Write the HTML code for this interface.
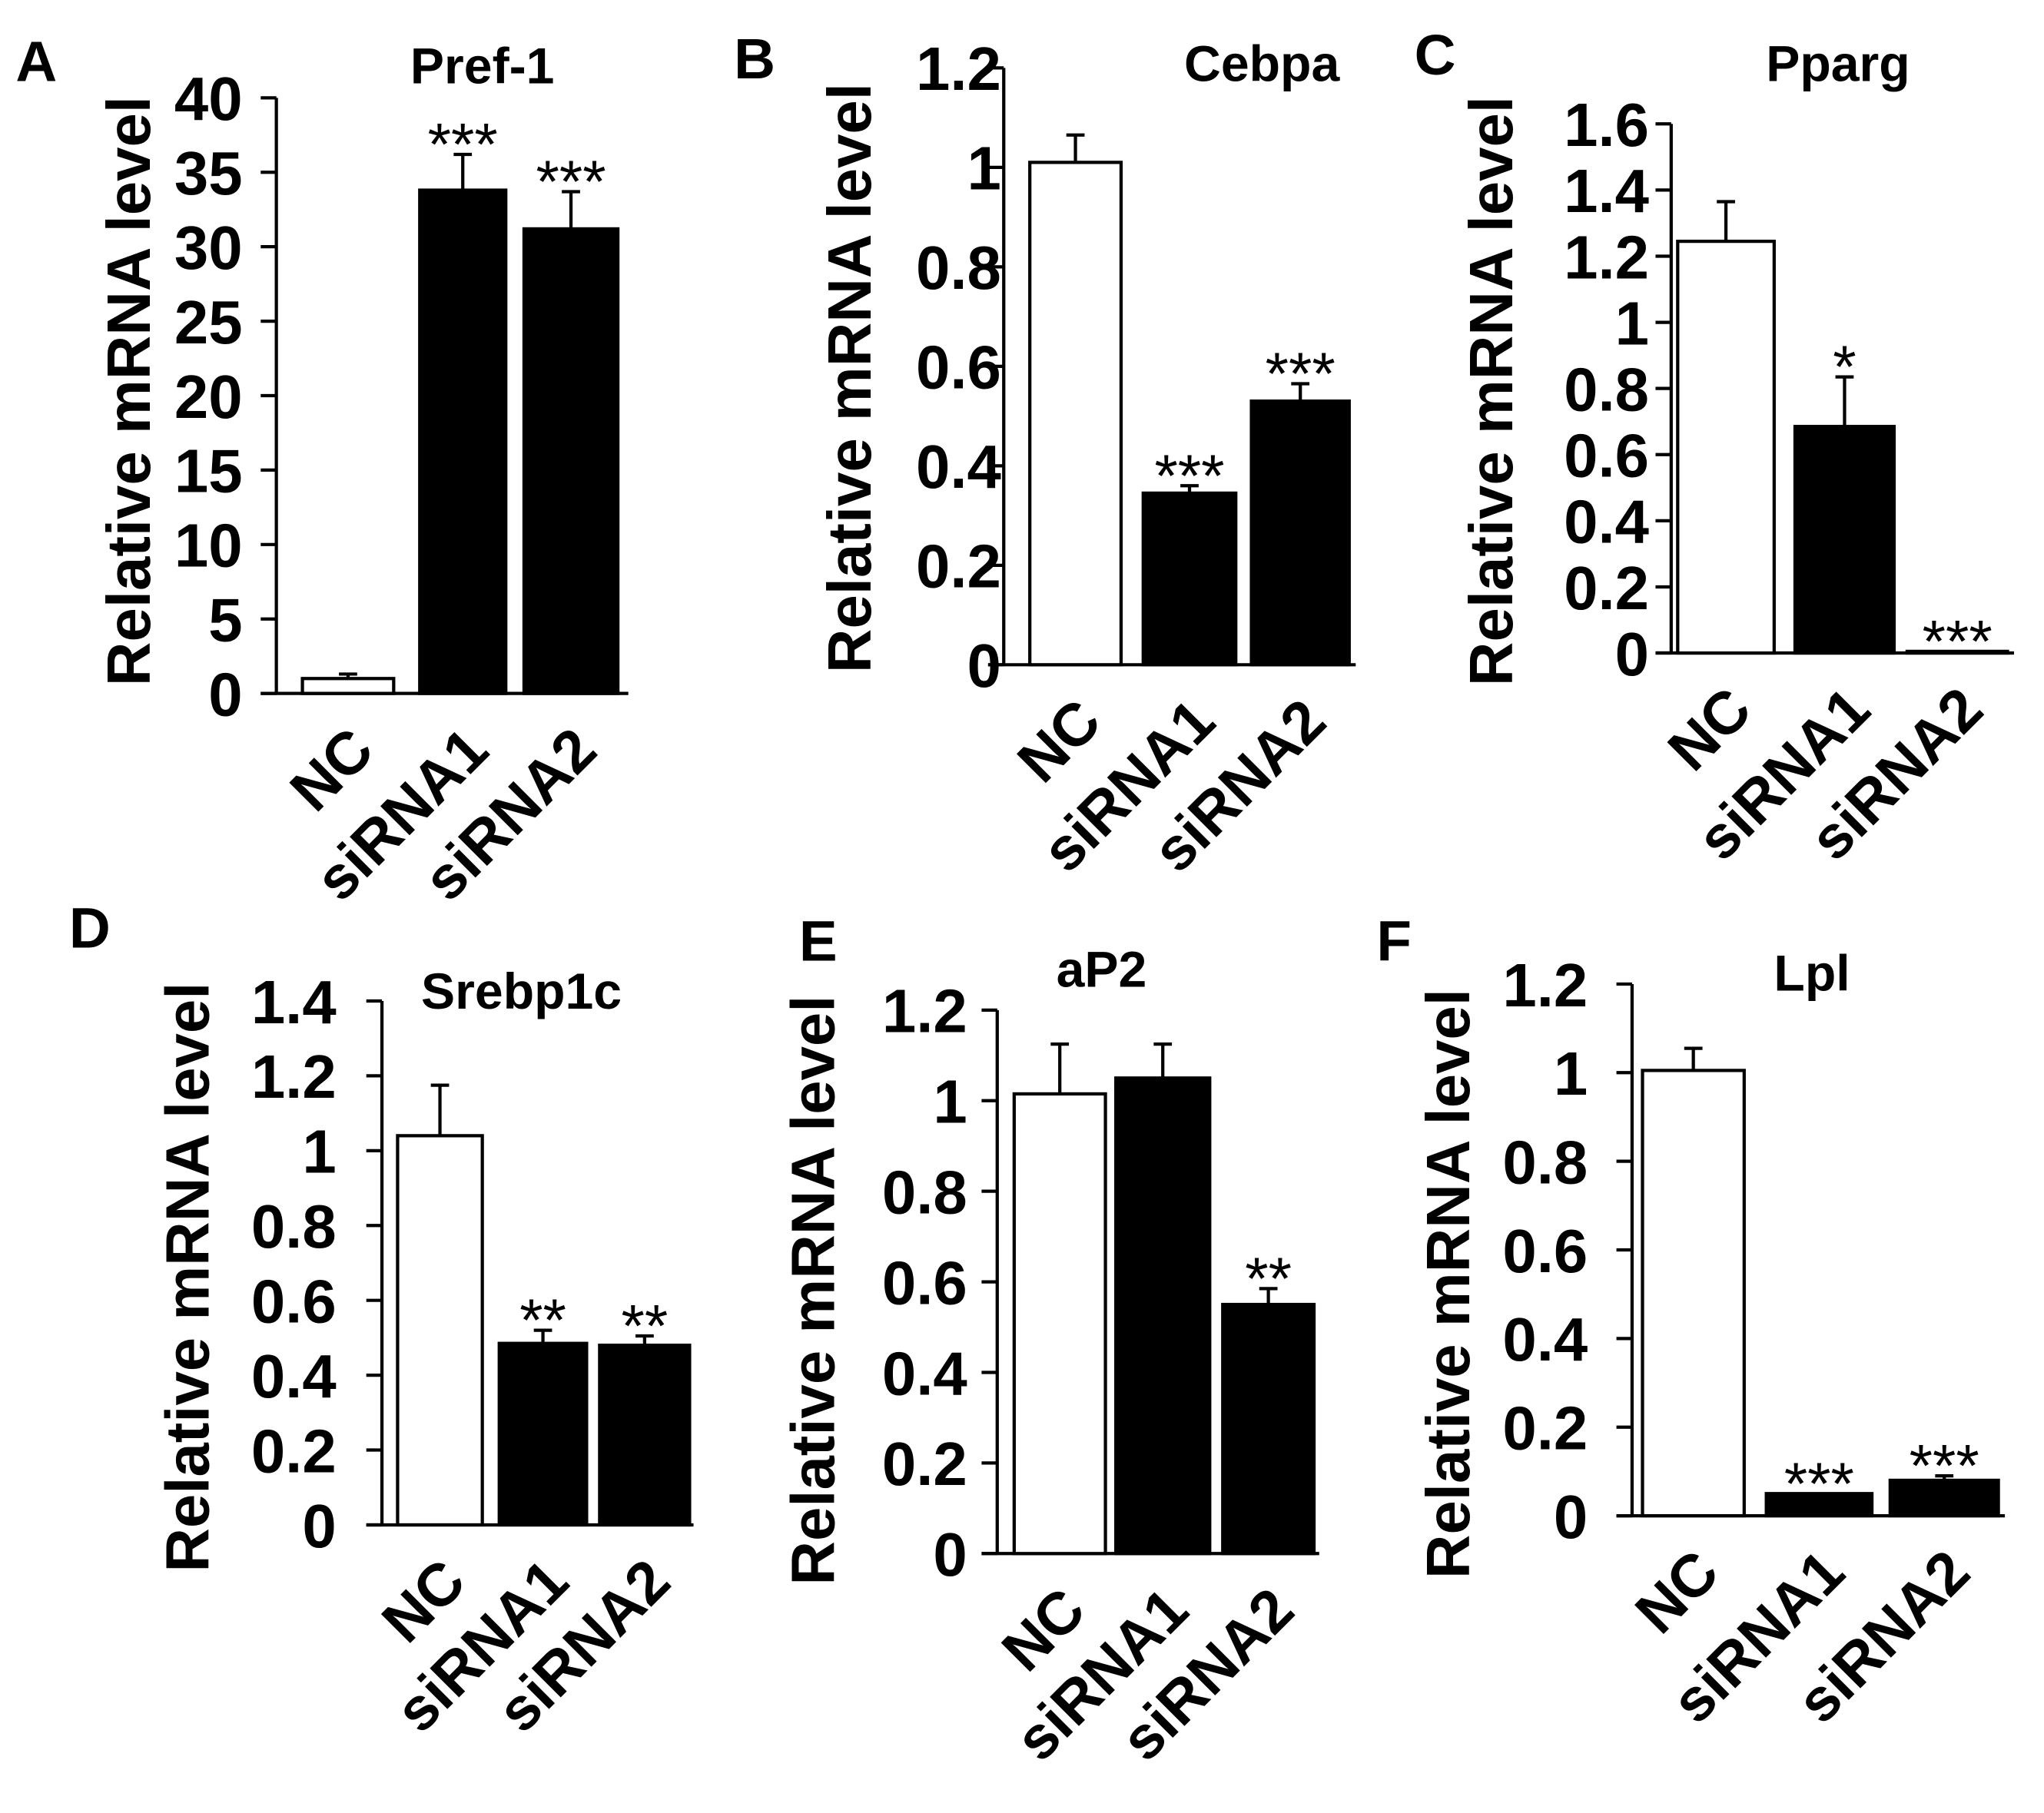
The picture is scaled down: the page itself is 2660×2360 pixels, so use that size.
<!DOCTYPE html>
<html><head><meta charset="utf-8"><style>
html,body{margin:0;padding:0;background:#fff;}
svg{display:block;}
text{font-family:"Liberation Sans",Arial,sans-serif;fill:#000;}
</style></head><body>
<svg id="fig" width="2660" height="2360" viewBox="0 0 1568 1391" xmlns="http://www.w3.org/2000/svg"></svg>
<script>
const categories = ["NC", "siRNA1", "siRNA2"];
const valuesA = [1.0, 33.8, 31.2];
const errorsA = [1.3, 36.2, 33.7];
const starsA = ["", "***", "***"];
const ticksA = [0, 5, 10, 15, 20, 25, 30, 35, 40];
const valuesB = [1.01, 0.345, 0.53];
const errorsB = [1.065, 0.36, 0.565];
const starsB = ["", "***", "***"];
const ticksB = [0, 0.2, 0.4, 0.6, 0.8, 1, 1.2];
const valuesC = [1.245, 0.685, 0.005];
const errorsC = [1.365, 0.835, 0.005];
const starsC = ["", "*", "***"];
const ticksC = [0, 0.2, 0.4, 0.6, 0.8, 1, 1.2, 1.4, 1.6];
const valuesD = [1.04, 0.485, 0.48];
const errorsD = [1.175, 0.52, 0.505];
const starsD = ["", "**", "**"];
const ticksD = [0, 0.2, 0.4, 0.6, 0.8, 1, 1.2, 1.4];
const valuesE = [1.015, 1.05, 0.55];
const errorsE = [1.125, 1.125, 0.585];
const starsE = ["", "", "**"];
const ticksE = [0, 0.2, 0.4, 0.6, 0.8, 1, 1.2];
const valuesF = [1.005, 0.05, 0.08];
const errorsF = [1.055, 0.05, 0.09];
const starsF = ["", "***", "***"];
const ticksF = [0, 0.2, 0.4, 0.6, 0.8, 1, 1.2];

const NS = "http://www.w3.org/2000/svg";
const svg = document.getElementById("fig");
function mk(tag, attrs, parent, txt) {
  const e = document.createElementNS(NS, tag);
  for (const k in attrs) e.setAttribute(k, attrs[k]);
  if (txt !== undefined) e.textContent = txt;
  parent.appendChild(e);
  return e;
}

function panel(cfg, vals, errs, stars, ticks) {
  const g = mk("g", {}, svg);
  
  
  const ymax = ticks[ticks.length - 1];
  const y = v => cfg.y0 - (v / ymax) * (cfg.y0 - cfg.yTop);
  const L = mk("text", {x: cfg.lx, y: cfg.ly, "font-size": 44, "font-weight": "bold"}, g, cfg.letter);
  
  
  const T = mk("text", {x: cfg.tx, y: cfg.ty, "font-size": 39, "font-weight": "bold", "text-anchor": "middle"}, g, cfg.title);
  
  
  const YT = mk("text", {x: 0, y: 0, "font-size": 47, "font-weight": "bold", "text-anchor": "middle",
    transform: `translate(${cfg.ytx},${cfg.ytc}) rotate(-90)`}, g, "Relative mRNA level");
  
  
  const ya = mk("line", {x1: cfg.ax, y1: y(ymax), x2: cfg.ax, y2: cfg.y0, stroke: "#000", "stroke-width": 2.5}, g);
  
  
  const xa = mk("line", {x1: cfg.ax - 12, y1: cfg.y0, x2: cfg.xEnd, y2: cfg.y0, stroke: "#000", "stroke-width": 2.5}, g);
  
  
  ticks.forEach(t => {
    const tk = mk("line", {x1: cfg.ax - 12, y1: y(t), x2: cfg.ax, y2: y(t), stroke: "#000", "stroke-width": 2.5}, g);
    
    
    const tl = mk("text", {x: cfg.tickR, y: y(t) + 17, "font-size": 47, "font-weight": "bold", "text-anchor": "end"}, g, String(t));
    
    
  });
  categories.forEach((c, i) => {
    const [x1, x2] = cfg.bars[i];
    const cx = (x1 + x2) / 2;
    const top = y(vals[i]);
    const b = mk("rect", {x: x1, y: top, width: x2 - x1, height: Math.max(cfg.y0 - top, 0.5),
      fill: i === 0 ? "#fff" : "#000", stroke: "#000", "stroke-width": 2.5}, g);
    
    
    const et = y(errs[i]);
    if (errs[i] > vals[i]) {
      const ev = mk("line", {x1: cx, y1: top, x2: cx, y2: et, stroke: "#000", "stroke-width": 2.5}, g);
      
      
      const eh = mk("line", {x1: cx - 7, y1: et, x2: cx + 7, y2: et, stroke: "#000", "stroke-width": 2.5}, g);
      
      
    }
    if (stars[i]) {
      const s = mk("text", {x: cx, y: Math.min(et, top) + 8, "font-size": 46, "text-anchor": "middle"}, g, stars[i]);
      
      
    }
    const cl = mk("text", {x: 0, y: 0, "font-size": 46, "font-weight": "bold", "text-anchor": "end",
      transform: `translate(${cx + 22},${cfg.y0 + 46}) rotate(-45)`}, g, c);
    
    
  });
}

panel({id: "a", letter: "A", lx: 12, ly: 62, title: "Pref-1", tx: 370, ty: 64, ytx: 115, ytc: 300,
  ax: 212, yTop: 75, y0: 532, xEnd: 482, tickR: 186,
  bars: [[232, 302], [322, 388], [402, 474]]}, valuesA, errorsA, starsA, ticksA);
panel({id: "b", letter: "B", lx: 563, ly: 60, title: "Cebpa", tx: 968, ty: 62, ytx: 668, ytc: 290,
  ax: 770, yTop: 52, y0: 510, xEnd: 1040, tickR: 768,
  bars: [[790, 860], [877, 948], [960, 1035]]}, valuesB, errorsB, starsB, ticksB);
panel({id: "c", letter: "C", lx: 1085, ly: 57, title: "Pparg", tx: 1410, ty: 62, ytx: 1160, ytc: 300,
  ax: 1282, yTop: 95, y0: 501, xEnd: 1545, tickR: 1265,
  bars: [[1287, 1361], [1377, 1453], [1463, 1540]]}, valuesC, errorsC, starsC, ticksC);
panel({id: "d", letter: "D", lx: 53, ly: 727, title: "Srebp1c", tx: 400, ty: 774, ytx: 160, ytc: 980,
  ax: 293, yTop: 768, y0: 1170, xEnd: 532, tickR: 258,
  bars: [[305, 370], [383, 450], [460, 529]]}, valuesD, errorsD, starsD, ticksD);
panel({id: "e", letter: "E", lx: 613, ly: 737, title: "aP2", tx: 845, ty: 757, ytx: 640, ytc: 990,
  ax: 765, yTop: 775, y0: 1192, xEnd: 1012, tickR: 742,
  bars: [[778, 848], [856, 928], [938, 1008]]}, valuesE, errorsE, starsE, ticksE);
panel({id: "f", letter: "F", lx: 1056, ly: 737, title: "Lpl", tx: 1390, ty: 760, ytx: 1127, ytc: 985,
  ax: 1252, yTop: 755, y0: 1163, xEnd: 1538, tickR: 1218,
  bars: [[1260, 1338], [1355, 1436], [1450, 1533]]}, valuesF, errorsF, starsF, ticksF);
</script>
</body></html>
